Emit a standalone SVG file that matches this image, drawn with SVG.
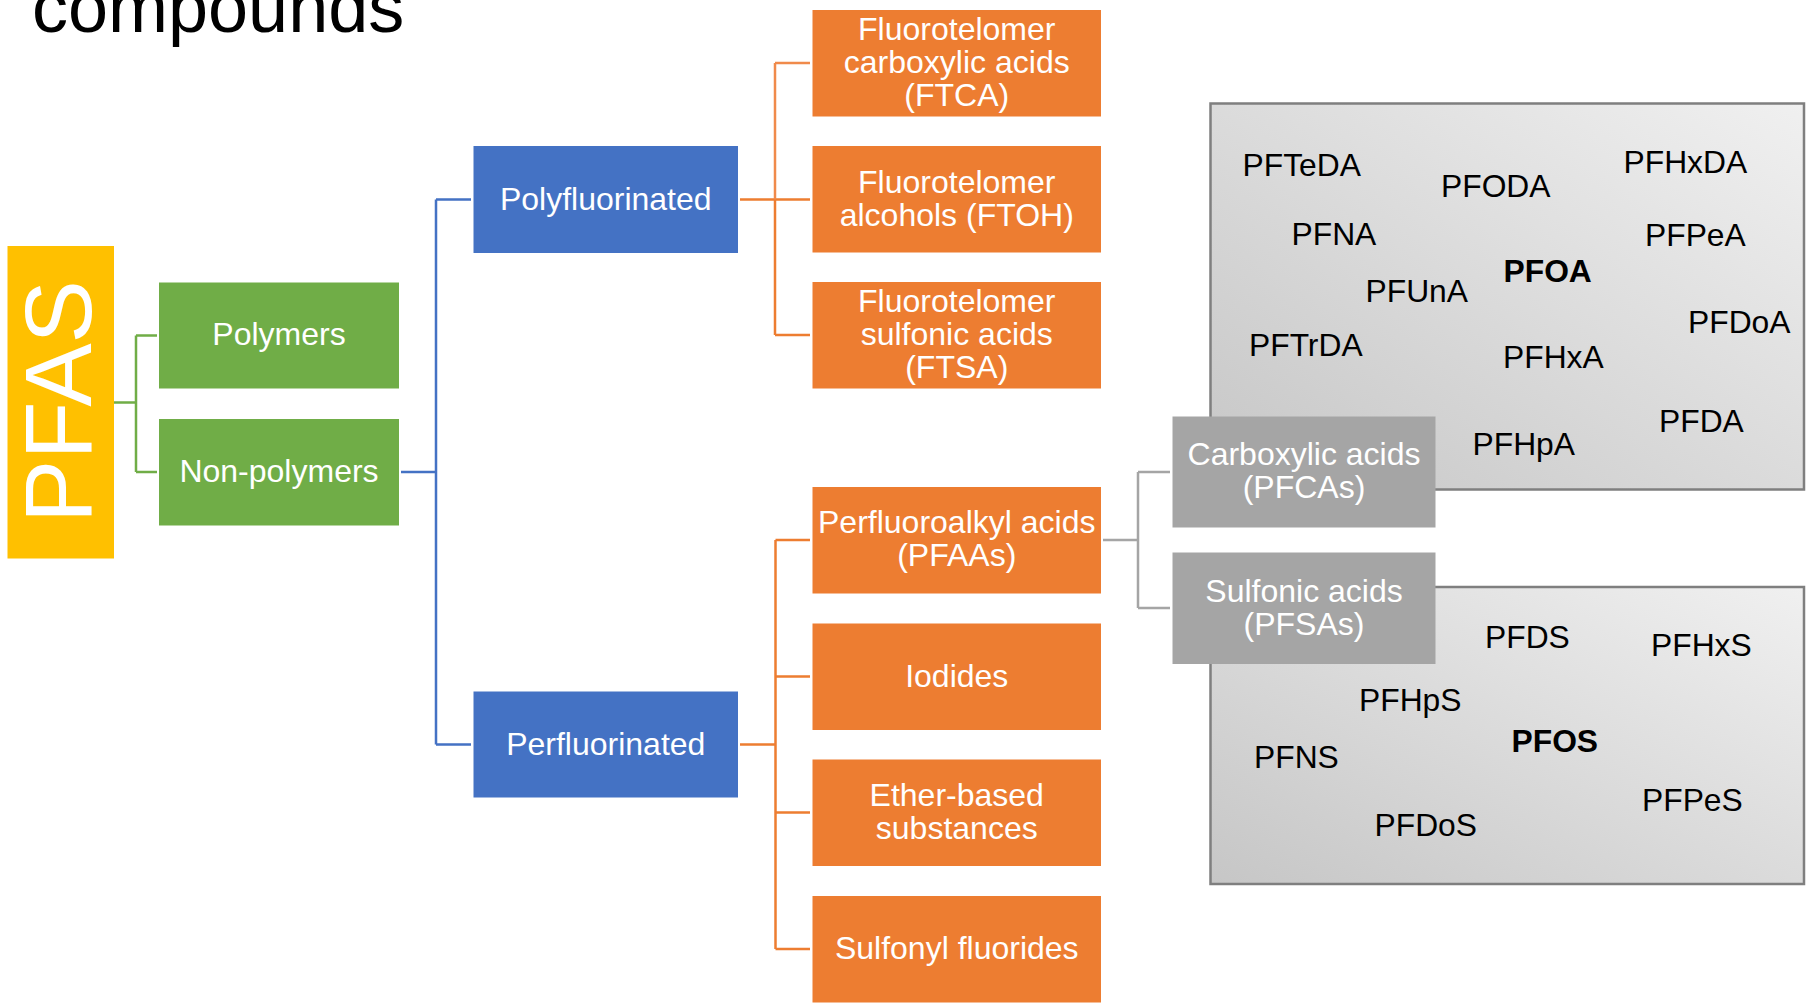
<svg xmlns="http://www.w3.org/2000/svg" width="1806" height="1003" viewBox="0 0 1806 1003">
<defs>
<linearGradient id="panelGrad" x1="0" y1="1" x2="1" y2="0">
<stop offset="0" stop-color="#c6c6c6"/>
<stop offset="1" stop-color="#f0f0f0"/>
</linearGradient>
<style>
text{font-family:"Liberation Sans",Arial,sans-serif}
.lbl{font-size:32px;fill:#ffffff;text-anchor:middle}
.chem{font-size:31.8px;fill:#000000}
.bold{font-weight:bold}
.gold{fill:#FFC000}
.green{fill:#70AD47}
.blue{fill:#4472C4}
.orange{fill:#ED7D31}
.gray{fill:#A5A5A5}
.panel{fill:url(#panelGrad);stroke:#7f7f7f;stroke-width:2.5}
.conn{fill:none;stroke-width:2.5}
</style>
</defs>
<rect width="1806" height="1003" fill="#ffffff"/>
<text x="32" y="31.7" font-size="72" fill="#000000">compounds</text>

<g id="connectors">
<path class="conn" stroke="#70AD47" d="M114 402.5H136M136 335.5V472M136 335.5H157M136 472H157"/>
<path class="conn" stroke="#4472C4" d="M401 472H436M436 199.5V744.5M436 199.5H471M436 744.5H471"/>
<path class="conn" stroke="#ED7D31" d="M740 199.5H775M775 199.5V335M775 199.5H810M775 335H810"/>
<path class="conn" stroke="#F08A4B" stroke-width="1.6" d="M775 63V199.5M775 63H810"/>
<path class="conn" stroke="#ED7D31" d="M740 744.5H775.5M775.5 540V949M775.5 540H810M775.5 676.5H810M775.5 812.5H810M775.5 949H810"/>
<path class="conn" stroke="#A5A5A5" stroke-width="3" d="M1103 540H1138M1138 472V608M1138 472H1170M1138 608H1170"/>
</g>

<g id="pfca-panel">
<rect class="panel" x="1210.5" y="103.5" width="593.5" height="386"/>
<text class="chem" x="1242.6" y="175.7">PFTeDA</text>
<text class="chem" x="1441" y="197">PFODA</text>
<text class="chem" x="1623.5" y="172.5">PFHxDA</text>
<text class="chem" x="1291.5" y="245">PFNA</text>
<text class="chem" x="1645" y="245.7">PFPeA</text>
<text class="chem bold" x="1503.5" y="281.7">PFOA</text>
<text class="chem" x="1365.5" y="302.3">PFUnA</text>
<text class="chem" x="1688" y="333.3">PFDoA</text>
<text class="chem" x="1249" y="355.7">PFTrDA</text>
<text class="chem" x="1503" y="368.3">PFHxA</text>
<text class="chem" x="1659" y="432.3">PFDA</text>
<text class="chem" x="1472.5" y="455">PFHpA</text>
</g>

<g id="pfsa-panel">
<rect class="panel" x="1210.5" y="587" width="593.5" height="297"/>
<text class="chem" x="1485" y="647.7">PFDS</text>
<text class="chem" x="1651" y="655.6">PFHxS</text>
<text class="chem" x="1359" y="710.5">PFHpS</text>
<text class="chem bold" x="1511.5" y="752.3">PFOS</text>
<text class="chem" x="1254" y="768">PFNS</text>
<text class="chem" x="1642" y="810.5">PFPeS</text>
<text class="chem" x="1374.5" y="835.5">PFDoS</text>
</g>

<g id="pfas">
<rect class="gold" x="7.5" y="246" width="106.5" height="312.5"/>
<text transform="translate(90.5,401.5) rotate(-90)" font-size="95" fill="#ffffff" text-anchor="middle">PFAS</text>
</g>

<g id="polymers">
<rect class="green" x="159" y="282.5" width="240" height="106"/>
<text class="lbl" x="279" y="345">Polymers</text>
</g>
<g id="non-polymers">
<rect class="green" x="159" y="419" width="240" height="106.5"/>
<text class="lbl" x="279" y="482">Non-polymers</text>
</g>

<g id="polyfluorinated">
<rect class="blue" x="473.5" y="146" width="264.5" height="107"/>
<text class="lbl" x="605.75" y="209.5">Polyfluorinated</text>
</g>
<g id="perfluorinated">
<rect class="blue" x="473.5" y="691.5" width="264.5" height="106"/>
<text class="lbl" x="605.75" y="754.5">Perfluorinated</text>
</g>

<g id="ftca">
<rect class="orange" x="812.5" y="10" width="288.5" height="106.5"/>
<text class="lbl" x="956.75" y="39.5">Fluorotelomer</text>
<text class="lbl" x="956.75" y="72.8">carboxylic acids</text>
<text class="lbl" x="956.75" y="106.1">(FTCA)</text>
</g>
<g id="ftoh">
<rect class="orange" x="812.5" y="146" width="288.5" height="106.5"/>
<text class="lbl" x="956.75" y="192.5">Fluorotelomer</text>
<text class="lbl" x="956.75" y="225.8">alcohols (FTOH)</text>
</g>
<g id="ftsa">
<rect class="orange" x="812.5" y="282" width="288.5" height="106.5"/>
<text class="lbl" x="956.75" y="311.5">Fluorotelomer</text>
<text class="lbl" x="956.75" y="344.8">sulfonic acids</text>
<text class="lbl" x="956.75" y="378.1">(FTSA)</text>
</g>

<g id="pfaas">
<rect class="orange" x="812.5" y="487" width="288.5" height="106.5"/>
<text class="lbl" x="956.75" y="533">Perfluoroalkyl acids</text>
<text class="lbl" x="956.75" y="566.3">(PFAAs)</text>
</g>
<g id="iodides">
<rect class="orange" x="812.5" y="623.5" width="288.5" height="106.5"/>
<text class="lbl" x="956.75" y="686.5">Iodides</text>
</g>
<g id="ether-based">
<rect class="orange" x="812.5" y="759.5" width="288.5" height="106.5"/>
<text class="lbl" x="956.75" y="806">Ether-based</text>
<text class="lbl" x="956.75" y="839.3">substances</text>
</g>
<g id="sulfonyl-fluorides">
<rect class="orange" x="812.5" y="896" width="288.5" height="106.5"/>
<text class="lbl" x="956.75" y="959">Sulfonyl fluorides</text>
</g>

<g id="pfcas">
<rect class="gray" x="1172.5" y="416.5" width="263" height="111"/>
<text class="lbl" x="1304" y="464.5">Carboxylic acids</text>
<text class="lbl" x="1304" y="497.8">(PFCAs)</text>
</g>
<g id="pfsas">
<rect class="gray" x="1172.5" y="552.5" width="263" height="111.5"/>
<text class="lbl" x="1304" y="601.5">Sulfonic acids</text>
<text class="lbl" x="1304" y="634.8">(PFSAs)</text>
</g>
</svg>
